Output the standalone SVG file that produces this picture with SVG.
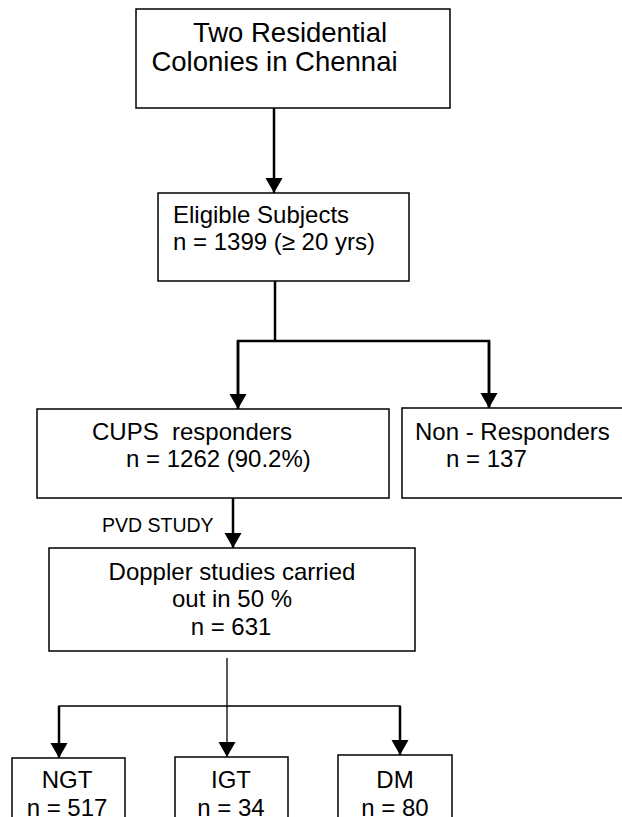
<svg xmlns="http://www.w3.org/2000/svg" width="622" height="817" viewBox="0 0 622 817">
<defs>
<style>
.box{fill:#fff;stroke:#000;stroke-width:1.5}
.t{font-family:"Liberation Sans",Arial,sans-serif;font-size:24px;fill:#000}
.big{font-size:27.5px}
.pvd{font-size:19.5px}
.c{text-anchor:middle}
.thick{stroke:#000;stroke-width:2.5;fill:none}
.thin{stroke:#000;stroke-width:1.3;fill:none}
</style>
<marker id="ah" markerUnits="userSpaceOnUse" markerWidth="18" markerHeight="18" viewBox="0 0 18 18" refX="15" refY="9" orient="auto">
<path d="M0,0.5 L15,9 L0,17.5 z" fill="#000"/>
</marker>
</defs>
<rect width="622" height="817" fill="#fff"/>
<g id="connectors">
<line class="thick" x1="274" y1="108" x2="274" y2="193" marker-end="url(#ah)"/>
<polyline class="thick" points="275,281 275,341"/>
<polyline class="thick" points="238,409 238,341 489,341 489,409" marker-start="none"/>
<line class="thick" x1="238" y1="341" x2="238" y2="409" marker-end="url(#ah)"/>
<line class="thick" x1="489" y1="341" x2="489" y2="408" marker-end="url(#ah)"/>
<line class="thick" x1="233" y1="498" x2="233" y2="548" marker-end="url(#ah)"/>
<line class="thin" x1="227" y1="658" x2="227" y2="757" marker-end="url(#ah)"/>
<polyline class="thin" points="59,716 59,706 400,706 400,716"/>
<line class="thick" x1="59" y1="706" x2="59" y2="758" marker-end="url(#ah)"/>
<line class="thick" x1="400" y1="706" x2="400" y2="755" marker-end="url(#ah)"/>
</g>
<g id="colonies">
<rect class="box" x="136" y="9" width="314" height="99"/>
<text class="t big c" x="290" y="42">Two Residential</text>
<text class="t big c" x="274.5" y="71">Colonies in Chennai</text>
</g>
<g id="eligible">
<rect class="box" x="158" y="193" width="251" height="88"/>
<text class="t" x="173" y="223">Eligible Subjects</text>
<text class="t" x="173" y="250">n = 1399 (≥ 20 yrs)</text>
</g>
<g id="cups">
<rect class="box" x="37" y="409" width="352" height="89"/>
<text class="t" x="92" y="440" xml:space="preserve">CUPS  responders</text>
<text class="t" x="126" y="467">n = 1262 (90.2%)</text>
</g>
<g id="nonresponders">
<rect class="box" x="402" y="408" width="224" height="90"/>
<text class="t" x="415" y="440">Non - Responders</text>
<text class="t" x="446" y="467">n = 137</text>
</g>
<g id="pvdlabel">
<text class="t pvd" x="102" y="532">PVD STUDY</text>
</g>
<g id="doppler">
<rect class="box" x="49" y="548" width="366" height="103"/>
<text class="t c" x="232" y="580">Doppler studies carried</text>
<text class="t c" x="232" y="607">out in 50 %</text>
<text class="t c" x="231" y="635">n = 631</text>
</g>
<g id="ngt">
<rect class="box" x="12" y="758" width="113" height="70"/>
<text class="t c" x="67" y="788">NGT</text>
<text class="t c" x="67" y="816">n = 517</text>
</g>
<g id="igt">
<rect class="box" x="175" y="757" width="113" height="70"/>
<text class="t c" x="231" y="788">IGT</text>
<text class="t c" x="231" y="816">n = 34</text>
</g>
<g id="dm">
<rect class="box" x="338" y="755" width="114" height="72"/>
<text class="t c" x="395" y="788">DM</text>
<text class="t c" x="395" y="816">n = 80</text>
</g>
</svg>
